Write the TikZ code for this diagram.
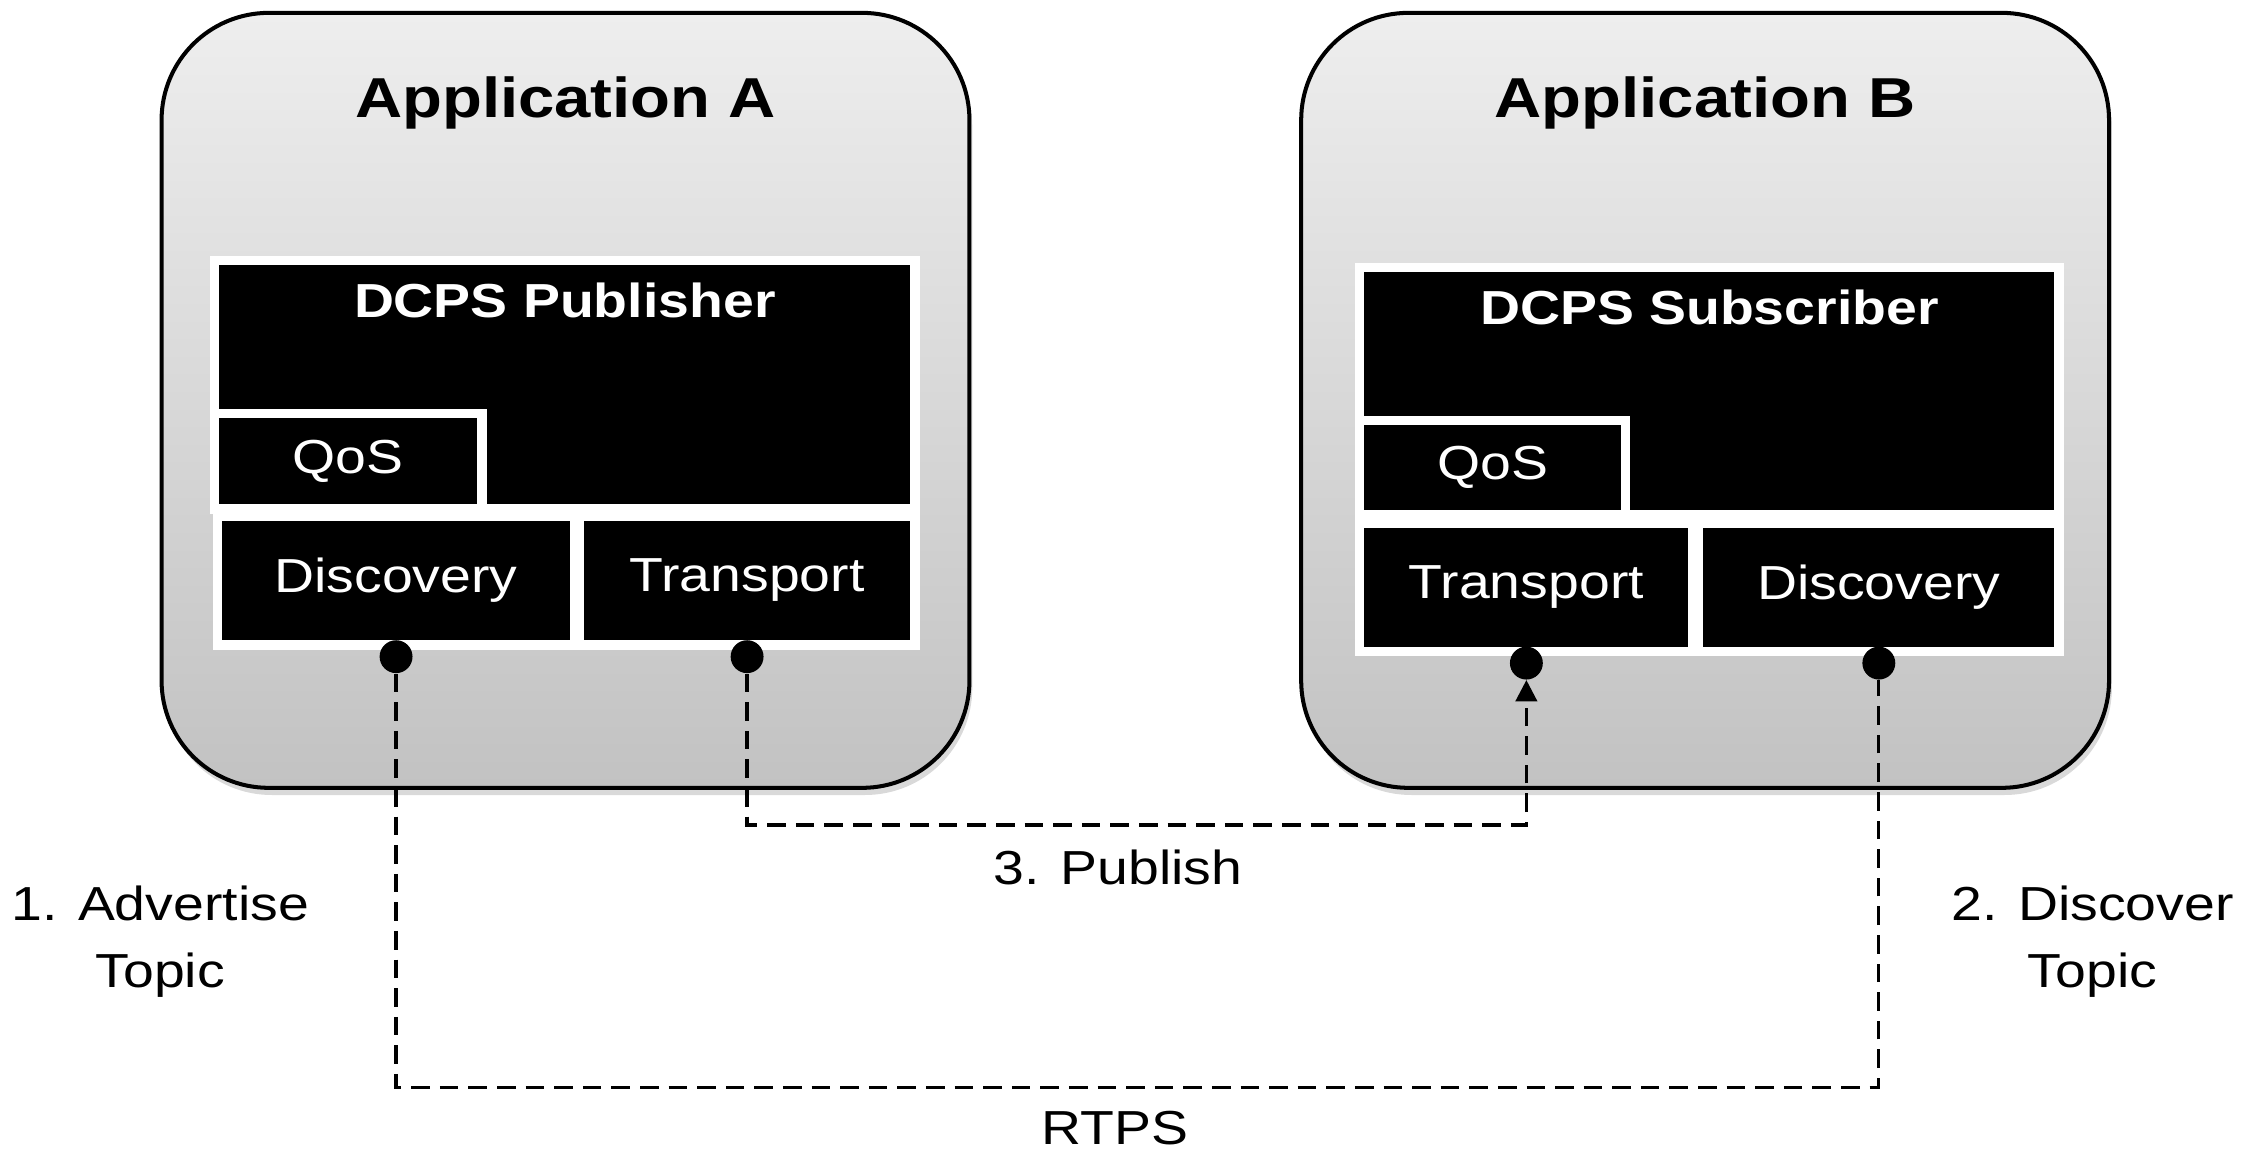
\documentclass[tikz,border=0pt]{standalone}
\usepackage{fontspec}
\setmainfont{Liberation Sans}[FakeStretch=1.16]
\usepackage{xcolor}
\usepackage{tikz}
\usetikzlibrary{arrows.meta, positioning, calc, shadows}

\definecolor{appTop}{RGB}{238,238,238}
\definecolor{appBot}{RGB}{194,194,194}

\tikzset{
    app/.style={draw=black, line width=1.6pt, rounded corners=1.5cm,
        top color=appTop, bottom color=appBot,
        minimum width=11.3cm, minimum height=10.84cm,
        drop shadow={shadow xshift=0.04cm, shadow yshift=-0.1cm, opacity=0.3}},
    apptitle/.style={font=\fontsize{22.4}{27}\selectfont\bfseries},
    blk/.style={draw=white, line width=3.7pt, fill=black, text=white, inner sep=0pt,
        font=\fontsize{19}{23}\selectfont},
    blktitle/.style={text=white, font=\fontsize{19}{23}\selectfont\bfseries},
    portdot/.style={circle, fill=black, inner sep=0pt, minimum size=0.46cm},
    link/.style={dash pattern=on 0.26cm off 0.14cm, line width=1.3pt},
    lbl/.style={align=center, font=\fontsize{19}{26.7}\selectfont}
}

\begin{document}
\begin{tikzpicture}
    \useasboundingbox (0,0) rectangle (31.36,16.1);

    % applications
    \node[app] (appA) at (7.91,10.5) {};
    \node[app] (appB) at (23.85,10.5) {};
    \node[apptitle] (titleA) at (7.91,14.66) {Application A};
    \node[apptitle] (titleB) at (23.85,14.66) {Application B};

    % publisher side
    \node[blk, minimum width=9.8cm, minimum height=3.48cm] (pub) at (7.9,10.72) {};
    \node[blktitle] (pubTitle) at ($(pub.north)+(0,-0.63)$) {DCPS Publisher};
    \node[blk, minimum width=3.74cm, minimum height=1.34cm] (qosA) at (4.87,9.65) {QoS};
    \node[blk, minimum width=5.0cm, minimum height=1.8cm] (discA) at (5.54,7.98) {Discovery};
    \node[blk, minimum width=4.7cm, minimum height=1.8cm] (transA) at (10.45,7.98) {Transport};

    % subscriber side
    \node[blk, minimum width=9.78cm, minimum height=3.46cm] (sub) at (23.91,10.63) {};
    \node[blktitle] (subTitle) at ($(sub.north)+(0,-0.63)$) {DCPS Subscriber};
    \node[blk, minimum width=3.72cm, minimum height=1.32cm] (qosB) at (20.88,9.56) {QoS};
    \node[blk, minimum width=4.66cm, minimum height=1.79cm] (transB) at (21.35,7.885) {Transport};
    \node[blk, minimum width=5.04cm, minimum height=1.79cm] (discB) at (26.28,7.885) {Discovery};

    % ports
    \node[portdot] (dDA) at ([yshift=-0.1cm]discA.south) {};
    \node[portdot] (dTA) at ([yshift=-0.1cm]transA.south) {};
    \node[portdot] (dTB) at ([yshift=-0.1cm]transB.south) {};
    \node[portdot] (dDB) at ([yshift=-0.1cm]discB.south) {};

    \coordinate (pubRow) at (0,4.56);
    \coordinate (rtpsRow) at (0,0.89);

    \draw[link, -{Triangle[length=0.3cm,width=0.3cm]}] (dTA) -- (dTA |- pubRow) -| (dTB);
    \draw[link] (dDA) -- (dDA |- rtpsRow) -| (dDB);

    % labels
    \node[lbl] (lblPublish) at (15.64,3.96) {3. Publish};
    \node[lbl] (lblRtps) at (15.6,0.32) {RTPS};
    \node[lbl] (lblAdv) at (2.24,2.93) {1. Advertise\\Topic};
    \node[lbl] (lblDisc) at (29.27,2.93) {2. Discover\\Topic};
\end{tikzpicture}
\end{document}
